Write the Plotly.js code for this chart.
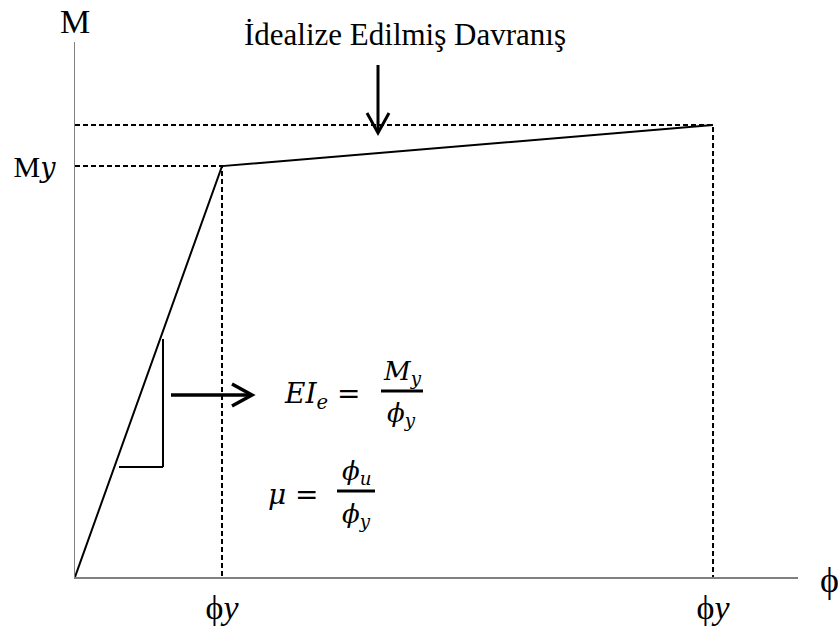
<!DOCTYPE html>
<html>
<head>
<meta charset="utf-8">
<script src="https://cdn.plot.ly/plotly-3.0.1.min.js"></script>
<style>
  html, body { margin: 0; padding: 0; background: #fff; }
  #chart { width: 838px; height: 632px; }
</style>
</head>
<body>
<div id="chart"></div>
<script>
// Idealised bilinear moment–curvature relation
const curvature = [0, 1, 4.34];      // origin, yield (ϕy), ultimate (ϕu)
const moment = [0, 1, 1.10];         // origin, yield (My), ultimate
const curvatureTickLabels = ['ϕ<i>y</i>', 'ϕ<i>y</i>'];
const momentTickLabels = ['M<span style="font-family:DejaVu Serif;font-style:italic;font-size:27px">y</span>'];

// Plot frame in page pixels
const W = 838, H = 632;
const LEFT = 75, RIGHT = 798, TOP = 42, BOTTOM = 577;
const X_MAX = 4.918, Y_MAX = 1.302;

// page pixel -> data / paper coordinate helpers for the drawing aids
const dx = px => (px - LEFT) / (RIGHT - LEFT) * X_MAX;
const dy = py => (BOTTOM - py) / (BOTTOM - TOP) * Y_MAX;
const fx = px => (px - LEFT) / (RIGHT - LEFT);
const fy = py => (BOTTOM - py) / (BOTTOM - TOP);

const serif = 'Liberation Serif';
const mathFont = 'DejaVu Serif';
const black = '#000';

// bilinear envelope
const envelope = {
  x: curvature, y: moment, mode: 'lines', type: 'scatter',
  line: { color: black, width: 2 }, hoverinfo: 'skip', cliponaxis: false
};

// dashed projections of the yield and ultimate points onto the axes
const guides = [];
for (let i = 1; i < curvature.length; i++) {
  guides.push({
    x: [0, curvature[i], curvature[i]],
    y: [moment[i], moment[i], 0],
    mode: 'lines', type: 'scatter',
    line: { color: black, width: 2, dash: '5px,3px' }, hoverinfo: 'skip'
  });
}

const lineStyle = (w) => ({ color: black, width: w });

const shapes = [
  // slope triangle
  { type: 'line', x0: dx(163), y0: dy(339), x1: dx(163), y1: dy(467), line: lineStyle(2) },
  { type: 'line', x0: dx(119), y0: dy(467), x1: dx(163), y1: dy(467), line: lineStyle(2) },
  // arrow pointing to the stiffness expression
  { type: 'line', x0: dx(171), y0: dy(395), x1: dx(251), y1: dy(395), line: lineStyle(3.5) },
  { type: 'path', path: `M ${dx(232)},${dy(384)} L ${dx(252)},${dy(395)} L ${dx(232)},${dy(406)}`, line: lineStyle(3.5) },
  // arrow pointing down to the idealised curve
  { type: 'line', x0: dx(378), y0: dy(65), x1: dx(378), y1: dy(132), line: lineStyle(3) },
  { type: 'path', path: `M ${dx(367)},${dy(113)} L ${dx(378)},${dy(133)} L ${dx(389)},${dy(113)}`, line: lineStyle(3) },
  // fraction bars
  { type: 'line', x0: dx(381), y0: dy(391), x1: dx(423), y1: dy(391), line: lineStyle(3) },
  { type: 'line', x0: dx(337), y0: dy(491), x1: dx(375), y1: dy(491), line: lineStyle(3) }
];

const txt = (px, py, text, size, family, xanchor, italic) => ({
  x: fx(px), y: fy(py), xref: 'paper', yref: 'paper', text: text, showarrow: false,
  xanchor: xanchor || 'center', yanchor: 'middle',
  font: { family: family, size: size, color: black, style: italic ? 'italic' : 'normal' }
});

const annotations = [
  txt(405, 34, 'İdealize Edilmiş Davranış', 31, serif),
  txt(75, 22, 'M', 34, serif),
  txt(818, 580, 'ϕ', 36, serif, 'left'),
  // EIe = My / ϕy
  txt(362, 396, 'EI<sub>e</sub> =', 28, mathFont, 'right', true),
  txt(402, 372, 'M<sub>y</sub>', 26, mathFont, 'center', true),
  txt(401, 414, 'ϕ<sub>y</sub>', 26, mathFont, 'center', true),
  // μ = ϕu / ϕy
  txt(321, 495, 'μ =', 28, mathFont, 'right', true),
  txt(356, 472, 'ϕ<sub>u</sub>', 26, mathFont, 'center', true),
  txt(356, 515, 'ϕ<sub>y</sub>', 26, mathFont, 'center', true)
];

const axisCommon = {
  showgrid: false, zeroline: false, showline: true,
  linecolor: '#808080', linewidth: 1.5, ticks: '',
  fixedrange: true
};

const layout = {
  width: W, height: H,
  margin: { l: LEFT, r: W - RIGHT, t: TOP, b: H - BOTTOM, pad: 0 },
  paper_bgcolor: '#fff', plot_bgcolor: '#fff',
  showlegend: false,
  xaxis: Object.assign({}, axisCommon, {
    range: [0, X_MAX], tickmode: 'array',
    tickvals: [curvature[1], curvature[2]], ticktext: curvatureTickLabels,
    tickfont: { family: serif, size: 34, color: black },
    ticklabelstandoff: 0
  }),
  yaxis: Object.assign({}, axisCommon, {
    range: [0, Y_MAX], tickmode: 'array',
    tickvals: [moment[1]], ticktext: momentTickLabels,
    tickfont: { family: serif, size: 30, color: black },
    ticklabelstandoff: 12
  }),
  shapes: shapes,
  annotations: annotations
};

Plotly.newPlot('chart', [envelope].concat(guides), layout, { displayModeBar: false, staticPlot: true });
</script>
</body>
</html>
